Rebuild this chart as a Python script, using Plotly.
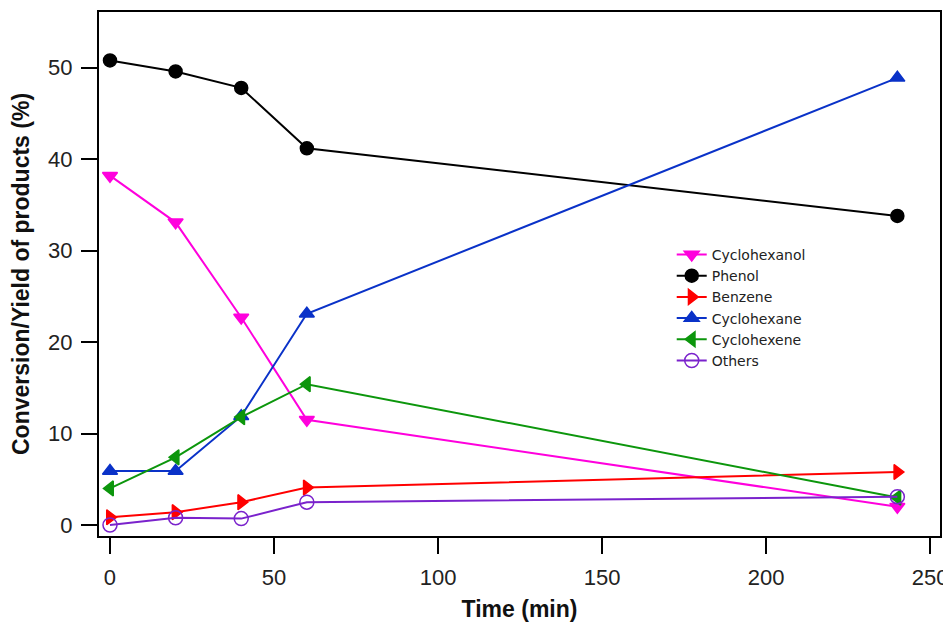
import plotly.graph_objects as go

time = [0, 20, 40, 60, 240]
cyclohexanol = [38.2, 33.1, 22.7, 11.5, 2.0]
phenol = [50.8, 49.6, 47.8, 41.2, 33.8]
benzene = [0.85, 1.4, 2.5, 4.1, 5.8]
cyclohexane = [5.9, 5.9, 11.9, 23.1, 48.9]
cyclohexene = [4.0, 7.4, 11.8, 15.4, 3.0]
others = [0.0, 0.8, 0.7, 2.5, 3.1]

x_ticks = [0, 50, 100, 150, 200, 250]
y_ticks = [0, 10, 20, 30, 40, 50]

series = [
    ("Cyclohexanol", cyclohexanol, "#ff00dd", "triangle-down"),
    ("Phenol", phenol, "#000000", "circle"),
    ("Benzene", benzene, "#ff0000", "triangle-right"),
    ("Cyclohexane", cyclohexane, "#0a32c8", "triangle-up"),
    ("Cyclohexene", cyclohexene, "#0c960c", "triangle-left"),
    ("Others", others, "#7a22cc", "circle-open"),
]

fig = go.Figure()
for name, vals, color, sym in series:
    fig.add_trace(go.Scatter(
        x=time, y=vals, name=name, mode="lines+markers",
        line=dict(color=color, width=2),
        marker=dict(symbol=sym, size=13 if sym != "circle-open" else 14,
                    color=color, line=dict(color=color, width=1.5)),
    ))

axis_common = dict(
    showline=True, linecolor="black", linewidth=2, mirror=True,
    ticks="outside", ticklen=16, tickwidth=2, tickcolor="black",
    showgrid=False, zeroline=False, automargin=False,
    tickfont=dict(family="Liberation Sans, Arial", size=22, color="#222"),
)

title_font = dict(family="Liberation Sans, Arial", size=23, color="#111")

# page body has an 8px margin, so the figure is sized/offset to compensate
fig.update_layout(
    width=943, height=614,
    margin=dict(l=91, r=11, t=4, b=86),
    paper_bgcolor="white", plot_bgcolor="white",
    showlegend=True,
    legend=dict(x=0.681, y=0.567, xanchor="left", yanchor="top",
                font=dict(family="DejaVu Sans", size=14, color="#222"),
                bgcolor="rgba(0,0,0,0)", itemwidth=30, tracegroupgap=0),
    xaxis=dict(range=[-3.35, 253], tickvals=x_ticks, ticklabelstandoff=5,
               title=dict(text="<b>Time (min)</b>", standoff=12, font=title_font),
               **axis_common),
    yaxis=dict(range=[-1.2, 56.1], tickvals=y_ticks, ticklabelstandoff=4,
               title=dict(text="<b>Conversion/Yield of products (%)</b>", standoff=14, font=title_font),
               **axis_common),
)

fig.write_html("out.html")
